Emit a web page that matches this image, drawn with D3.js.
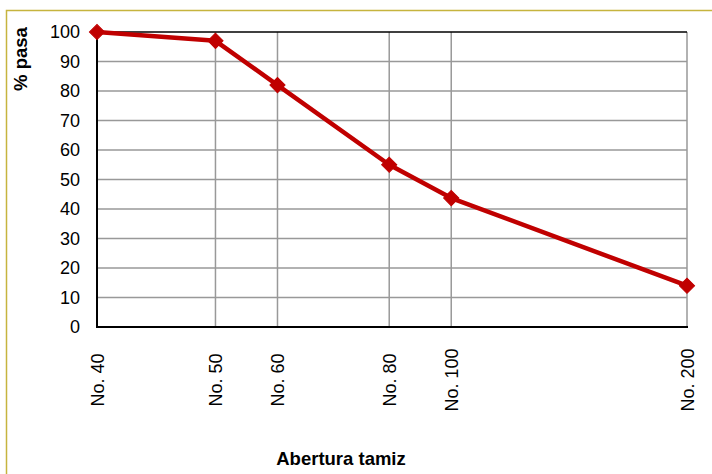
<!DOCTYPE html>
<html><head><meta charset="utf-8">
<script src="https://cdn.jsdelivr.net/npm/d3@7"></script>
<style>
html,body{margin:0;padding:0;background:#fff;}
svg{display:block;}
text{font-family:"Liberation Sans",Arial,sans-serif;fill:#000;}
</style></head>
<body><svg id="chart" width="712" height="474"></svg>
<script>
const sieves = ["No. 40","No. 50","No. 60","No. 80","No. 100","No. 200"];
const openings = [0.425, 0.3, 0.25, 0.18, 0.15, 0.075];
const pasa = [100, 97, 82, 55, 43.7, 14];
const yTicks = [0,10,20,30,40,50,60,70,80,90,100];

const svg = d3.select("#chart");
const L = 97, R = 687, T = 32, B = 327;

svg.append("rect").attr("x",6.5).attr("y",10.5).attr("width",720).attr("height",480)
  .attr("fill","#fff").attr("stroke","#c6b43e").attr("stroke-width",1.5);

const x = d3.scaleLog().domain([openings[0], openings[openings.length-1]]).range([L,R]);
const y = d3.scaleLinear().domain([0,100]).range([B,T]);

svg.append("g").selectAll("line").data(yTicks.filter(d=>d>0 && d<100)).join("line")
  .attr("x1",L).attr("x2",R).attr("y1",d=>y(d)).attr("y2",d=>y(d))
  .attr("stroke","#999").attr("stroke-width",1.5);
svg.append("g").selectAll("line").data(openings.slice(1)).join("line")
  .attr("x1",d=>x(d)).attr("x2",d=>x(d)).attr("y1",T).attr("y2",B)
  .attr("stroke","#999").attr("stroke-width",1.5);
svg.append("line").attr("x1",L).attr("x2",R).attr("y1",T).attr("y2",T).attr("stroke","#000").attr("stroke-width",1.5);
svg.append("line").attr("x1",L).attr("x2",L).attr("y1",T).attr("y2",B+1).attr("stroke","#000").attr("stroke-width",2);
svg.append("line").attr("x1",L-1).attr("x2",R+1).attr("y1",B).attr("y2",B).attr("stroke","#000").attr("stroke-width",2);

svg.append("g").selectAll("text").data(yTicks).join("text")
  .attr("x",80).attr("y",d=>y(d)).attr("dy","0.36em").attr("text-anchor","end")
  .style("font-size","18px").text(d=>d);

svg.append("g").selectAll("text").data(sieves).join("text")
  .attr("transform",(d,i)=>`translate(${x(openings[i])+6.5},380) rotate(-90)`)
  .attr("text-anchor","middle").style("font-size","18px").text(d=>d);

svg.append("text").attr("x",341).attr("y",465).attr("text-anchor","middle")
  .style("font-size","18.5px").style("font-weight","bold").text("Abertura tamiz");
svg.append("text").attr("transform","translate(27,59) rotate(-90)").attr("text-anchor","middle")
  .style("font-size","18.5px").style("font-weight","bold").text("% pasa");

const line = d3.line().x((d,i)=>x(openings[i])).y(d=>y(d));
svg.append("path").datum(pasa).attr("d",line).attr("fill","none")
  .attr("stroke","#c00000").attr("stroke-width",4.5).attr("stroke-linejoin","round");

const sym = d3.symbol().type(d3.symbolSquare).size(115);
svg.append("g").selectAll("path").data(pasa).join("path")
  .attr("d",sym).attr("fill","#c00000").attr("stroke","#c00000").attr("stroke-width",1)
  .attr("transform",(d,i)=>`translate(${x(openings[i])},${y(d)}) rotate(45)`);
</script></body></html>
